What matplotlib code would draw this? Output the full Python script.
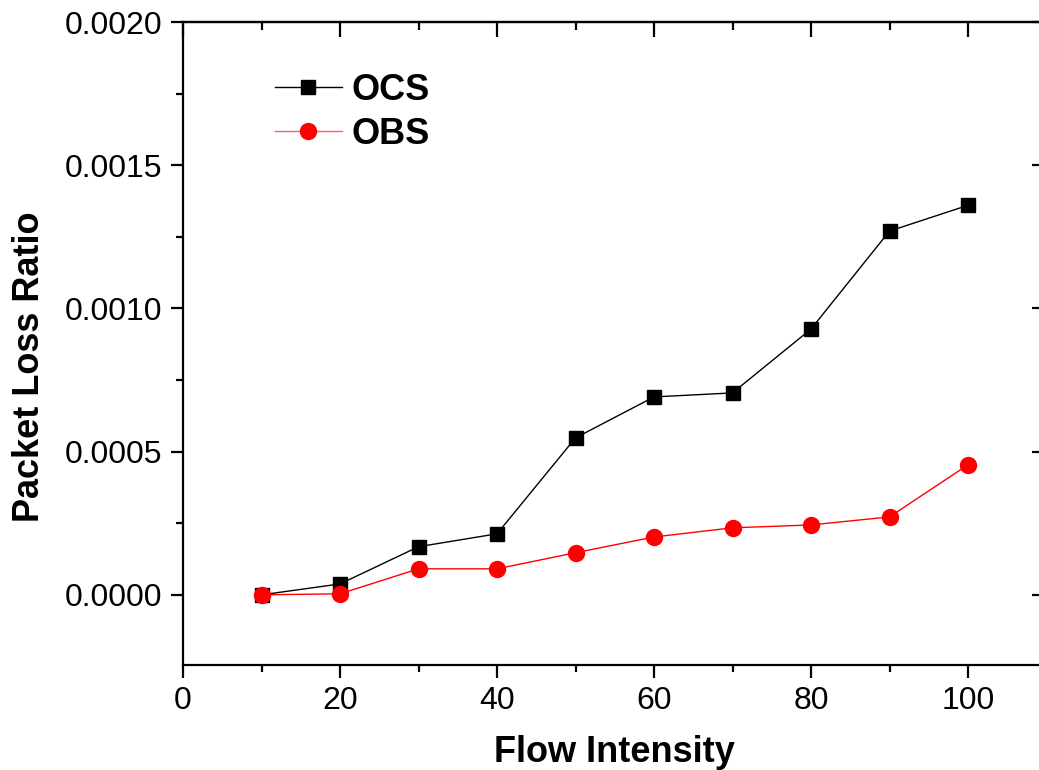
import matplotlib
matplotlib.use('Agg')
import matplotlib.pyplot as plt
from matplotlib.ticker import MultipleLocator, FormatStrFormatter
from matplotlib.lines import Line2D

plt.rcParams['font.family'] = ['Liberation Sans', 'DejaVu Sans']

flow = [10, 20, 30, 40, 50, 60, 70, 80, 90, 100]
ocs = [0.0, 0.000038, 0.000168, 0.000213, 0.000548, 0.000691, 0.000705, 0.000928, 0.00127, 0.00136]
obs = [0.0, 0.0000035, 0.0000908, 0.0000908, 0.000147, 0.000202, 0.000234, 0.000244, 0.000272, 0.000454]

fig = plt.figure(figsize=(10.39, 7.70), dpi=100)
ax = fig.add_axes([183/1039, 105/770, 863.5/1039, 643/770])

ax.plot(flow, ocs, color='black', lw=1, marker='s', ms=10, mec='black', mfc='black')
ax.plot(flow, obs, color='red', lw=1, marker='o', ms=11.5, mec='red', mfc='red')

ax.set_xlim(0, 110)
ax.set_ylim(-0.000245, 0.002)
ax.xaxis.set_major_locator(MultipleLocator(20))
ax.xaxis.set_minor_locator(MultipleLocator(10))
ax.yaxis.set_major_locator(MultipleLocator(0.0005))
ax.yaxis.set_minor_locator(MultipleLocator(0.00025))
ax.yaxis.set_major_formatter(FormatStrFormatter('%.4f'))

for s in ax.spines.values():
    s.set_linewidth(1.6)

ax.tick_params(which='both', direction='out', width=1.6, labelsize=23, top=False, right=False)
ax.tick_params(which='major', length=9, pad=6)
ax.tick_params(which='minor', length=5)

# inward ticks on top and right, without labels
ax2 = ax.secondary_xaxis('top')
ax2.xaxis.set_major_locator(MultipleLocator(20))
ax2.xaxis.set_minor_locator(MultipleLocator(10))
ax2.tick_params(which='both', direction='in', width=1.6, labeltop=False)
ax2.tick_params(which='major', length=11)
ax2.tick_params(which='minor', length=6)
ax2.spines['top'].set_linewidth(1.6)
ax3 = ax.secondary_yaxis('right')
ax3.yaxis.set_major_locator(MultipleLocator(0.0005))
ax3.yaxis.set_minor_locator(MultipleLocator(0.00025))
ax3.tick_params(which='both', direction='in', width=1.6, labelright=False)
ax3.tick_params(which='major', length=11)
ax3.tick_params(which='minor', length=6)

ax.set_xlabel('Flow Intensity', fontsize=26, fontweight='bold', labelpad=14)
ax.set_ylabel('Packet Loss Ratio', fontsize=26, fontweight='bold')
ax.yaxis.set_label_coords(-0.158, 0.4635)

handles = [Line2D([], [], color='black', lw=1, marker='s', ms=10),
           Line2D([], [], color='#ff6060', lw=1, marker='o', ms=11.5, mfc='red', mec='red')]
ax.legend(handles, ['OCS', 'OBS'], loc='upper left', bbox_to_anchor=(0.069, 0.972),
          frameon=False, prop={'size': 26, 'weight': 'bold'}, handlelength=1.85,
          handletextpad=0.28, labelspacing=0.25)

fig.savefig('out.png', dpi=100)
